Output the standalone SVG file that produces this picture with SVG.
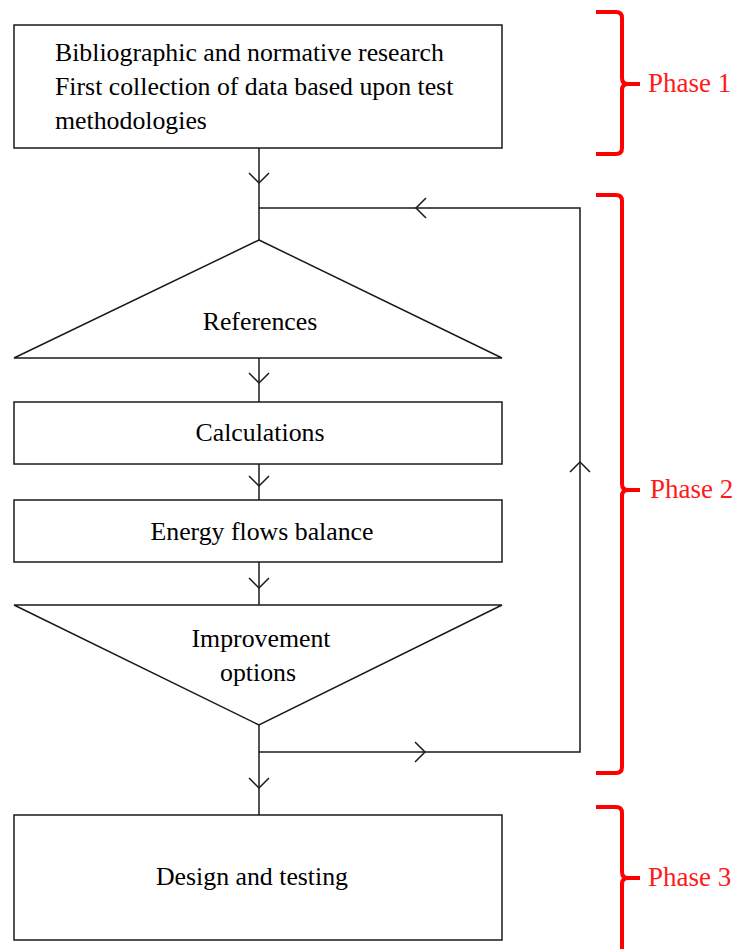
<svg xmlns="http://www.w3.org/2000/svg" width="733" height="949" viewBox="0 0 733 949">
  <style>
    .shape { fill: #ffffff; stroke: #1a1a1a; stroke-width: 1.5; }
    .caption { font-family: "Liberation Serif", serif; font-size: 25.8px; fill: #000000; }
    .mid { text-anchor: middle; }
    .conn { fill: none; stroke: #1a1a1a; stroke-width: 1.5; }
    .brace { fill: none; stroke: #ff0000; stroke-width: 4; stroke-linejoin: round; }
    .phase { font-family: "Liberation Serif", serif; font-size: 27px; fill: #ff1a1a; }
  </style>
  <defs>
    <marker id="chev" markerUnits="userSpaceOnUse" markerWidth="24" markerHeight="24" refX="0" refY="0" viewBox="-12 -12 24 24" orient="auto" overflow="visible">
      <path d="M-10,-10 L0,0 L-10,10" fill="none" stroke="#1a1a1a" stroke-width="1.5"/>
    </marker>
  </defs>

  <rect width="733" height="949" fill="#ffffff"/>

  <!-- connectors -->
  <g id="connectors">
    <path class="conn" d="M259,148 L259,183" marker-end="url(#chev)"/>
    <path class="conn" d="M259,183 L259,240"/>
    <path class="conn" d="M259,358 L259,383" marker-end="url(#chev)"/>
    <path class="conn" d="M259,383 L259,402"/>
    <path class="conn" d="M259,464 L259,486" marker-end="url(#chev)"/>
    <path class="conn" d="M259,486 L259,500"/>
    <path class="conn" d="M259,562 L259,588" marker-end="url(#chev)"/>
    <path class="conn" d="M259,588 L259,605"/>
    <path class="conn" d="M259,725 L259,788" marker-end="url(#chev)"/>
    <path class="conn" d="M259,788 L259,815"/>
    <!-- feedback loop -->
    <path class="conn" d="M259,752 L425,752" marker-end="url(#chev)"/>
    <path class="conn" d="M425,752 L580,752 L580,462" marker-end="url(#chev)"/>
    <path class="conn" d="M580,462 L580,208 L416,208" marker-end="url(#chev)"/>
    <path class="conn" d="M416,208 L259,208"/>
  </g>

  <g id="research">
    <rect class="shape" x="14" y="25" width="488" height="123"/>
    <text class="caption" x="55" y="61">Bibliographic and normative research</text>
    <text class="caption" x="55" y="95">First collection of data based upon test</text>
    <text class="caption" x="55" y="129">methodologies</text>
  </g>

  <g id="references">
    <polygon class="shape" points="259,240 502,358 14,358"/>
    <text class="caption mid" x="260" y="330">References</text>
  </g>

  <g id="calculations">
    <rect class="shape" x="14" y="402" width="488" height="62"/>
    <text class="caption mid" x="260" y="441">Calculations</text>
  </g>

  <g id="energy">
    <rect class="shape" x="14" y="500" width="488" height="62"/>
    <text class="caption mid" x="262" y="540">Energy flows balance</text>
  </g>

  <g id="improvement">
    <polygon class="shape" points="14,605 502,605 259,725"/>
    <text class="caption mid" x="261" y="647">Improvement</text>
    <text class="caption mid" x="258" y="681">options</text>
  </g>

  <g id="design">
    <rect class="shape" x="14" y="815" width="488" height="125"/>
    <text class="caption mid" x="252" y="885">Design and testing</text>
  </g>

  <!-- phase braces -->
  <g id="phase1">
    <path class="brace" d="M596,12 H616 Q622,12 622,18 V78 Q622,84 628,84 H640 M628,84 Q622,84 622,90 V148 Q622,154 616,154 H596"/>
    <text class="phase" x="648" y="92">Phase 1</text>
  </g>
  <g id="phase2">
    <path class="brace" d="M596,195 H616 Q622,195 622,201 V484 Q622,490 628,490 H640 M628,490 Q622,490 622,496 V767 Q622,773 616,773 H596"/>
    <text class="phase" x="650" y="498">Phase 2</text>
  </g>
  <g id="phase3">
    <path class="brace" d="M596,807 H616 Q622,807 622,813 V872 Q622,878 628,878 H640 M628,878 Q622,878 622,884 V949"/>
    <text class="phase" x="648" y="886">Phase 3</text>
  </g>
</svg>
